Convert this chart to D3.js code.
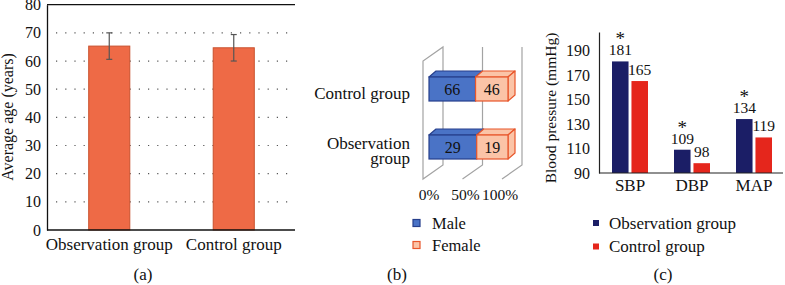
<!DOCTYPE html>
<html>
<head>
<meta charset="utf-8">
<script src="https://cdn.jsdelivr.net/npm/d3@7"></script>
<style>
  body { margin: 0; background: #fff; }
  svg { display: block; font-family: "Liberation Serif", "Times New Roman", serif; }
</style>
</head>
<body>
<svg id="drawing_region"></svg>
<script>
// (a) average age
const ageGroups = ["Observation group", "Control group"];
const ageMeans = [65.3, 64.7];
const ageSD = [4.7, 4.7];
const ageTicks = [0, 10, 20, 30, 40, 50, 60, 70, 80];

// (b) gender composition
const genderGroups = ["Control group", "Observation group"];
const genderLabelLines = [["Control group"], ["Observation", "group"]];
const maleCounts = [66, 29];
const femaleCounts = [46, 19];
const genderKeys = ["Male", "Female"];
const pctTicks = [0, 50, 100];

// (c) blood pressure
const bpMeasures = ["SBP", "DBP", "MAP"];
const bpSeries = ["Observation group", "Control group"];
const bpObservation = [181, 109, 134];
const bpControl = [165, 98, 119];
const bpTicks = [90, 110, 130, 150, 170, 190];
const bpStars = [true, true, true];

const svg = d3.select('#drawing_region')
    .attr('width', 785)
    .attr('height', 285);

// ---------- panel (a) ----------
{
    const x = d3.scaleBand().domain(ageGroups).range([47, 296]).paddingInner(0.67).paddingOuter(0.335);
    const y = d3.scaleLinear().domain([0, 80]).range([230, 4.7]);
    const g = svg.append('g');

    // dotted grid
    g.selectAll('line.grid')
        .data(ageTicks.filter(t => t > 0 && t < 80))
        .enter().append('line')
        .attr('x1', 56).attr('x2', 295)
        .attr('y1', d => y(d)).attr('y2', d => y(d))
        .attr('stroke', '#555').attr('stroke-width', 1.2)
        .attr('stroke-dasharray', '1.2,8');

    // top frame line
    g.append('line')
        .attr('x1', 47).attr('x2', 295)
        .attr('y1', y(80)).attr('y2', y(80))
        .attr('stroke', '#111').attr('stroke-width', 1.3);

    g.selectAll('rect')
        .data(ageGroups)
        .enter().append('rect')
        .attr('x', d => x(d))
        .attr('width', x.bandwidth())
        .attr('y', (d, i) => y(ageMeans[i]))
        .attr('height', (d, i) => y(0) - y(ageMeans[i]))
        .attr('fill', '#ee6a46')
        .attr('stroke', '#c9512d')
        .attr('stroke-width', 1);

    // error bars
    const eb = g.selectAll('g.err').data(ageGroups).enter().append('g')
        .attr('stroke', '#555').attr('stroke-width', 1.2);
    eb.append('line')
        .attr('x1', d => x(d) + x.bandwidth() / 2).attr('x2', d => x(d) + x.bandwidth() / 2)
        .attr('y1', (d, i) => y(ageMeans[i] + ageSD[i]))
        .attr('y2', (d, i) => y(ageMeans[i] - ageSD[i]));
    [1, -1].forEach(s => {
        eb.append('line')
            .attr('x1', d => x(d) + x.bandwidth() / 2 - 3).attr('x2', d => x(d) + x.bandwidth() / 2 + 3)
            .attr('y1', (d, i) => y(ageMeans[i] + s * ageSD[i]))
            .attr('y2', (d, i) => y(ageMeans[i] + s * ageSD[i]));
    });

    const yaxis = g.append('g').attr('transform', 'translate(47,0)')
        .call(d3.axisLeft(y).tickValues(ageTicks).tickSize(0).tickPadding(6));
    yaxis.select('.domain').attr('stroke', '#111').attr('stroke-width', 1.3);
    yaxis.selectAll('text').attr('font-size', 16).attr('fill', '#111').attr('font-family', 'Liberation Serif');

    const xaxis = g.append('g').attr('transform', `translate(0,${y(0)})`)
        .call(d3.axisBottom(x).tickSize(0).tickPadding(8));
    xaxis.select('.domain').attr('stroke', '#111').attr('stroke-width', 1.3).attr('d', 'M47,0H295');
    xaxis.selectAll('text').attr('font-size', 17).attr('fill', '#111').attr('font-family', 'Liberation Serif');

    g.append('text')
        .attr('transform', 'translate(13,117) rotate(-90)')
        .attr('text-anchor', 'middle')
        .attr('font-size', 16).attr('fill', '#111')
        .text('Average age (years)');

    g.append('text').attr('x', 143).attr('y', 280).attr('text-anchor', 'middle')
        .attr('font-size', 17).attr('fill', '#111').text('(a)');
}

// ---------- panel (b) ----------
{
    const xg = d3.scaleLinear().domain([0, 100]).range([423, 502]);
    const y = d3.scalePoint().domain(genderGroups).range([89, 147]);
    const depth = { dx: 20, dy: -14 };
    const floorY = 179, topY = 61;
    const g = svg.append('g');
    const wallColor = '#a3a3a3';

    // left wall (0%)
    g.append('path')
        .attr('d', `M${xg(0)},${floorY}V${topY}L${xg(0) + depth.dx},${topY + depth.dy}V${floorY + depth.dy}Z`)
        .attr('fill', 'none').attr('stroke', wallColor).attr('stroke-width', 1.2);
    // other gridlines
    g.selectAll('path.grid')
        .data(pctTicks.filter(t => t > 0))
        .enter().append('path')
        .attr('d', d => `M${xg(d)},${floorY}L${xg(d) + depth.dx},${floorY + depth.dy}V${topY + depth.dy}`)
        .attr('fill', 'none').attr('stroke', wallColor).attr('stroke-width', 1.2);

    const barH = 24, bx = 6, bdx = 7, bdy = -6;
    const colors = {
        Male: { fill: '#4a73c6', stroke: '#263f8c' },
        Female: { fill: '#fbc4a7', stroke: '#e8562b' }
    };

    genderGroups.forEach((grp, i) => {
        const total = maleCounts[i] + femaleCounts[i];
        const segs = [
            { key: 'Male', v0: 0, v1: maleCounts[i] / total * 100, n: maleCounts[i] },
            { key: 'Female', v0: maleCounts[i] / total * 100, v1: 100, n: femaleCounts[i] }
        ];
        const y0 = y(grp) - barH / 2, y1 = y(grp) + barH / 2;
        segs.forEach((s, j) => {
            const x0 = xg(s.v0) + bx, x1 = xg(s.v1) + bx;
            const c = colors[s.key];
            // top face
            g.append('path')
                .attr('d', `M${x0},${y0}L${x0 + bdx},${y0 + bdy}H${x1 + bdx}L${x1},${y0}Z`)
                .attr('fill', c.fill).attr('stroke', c.stroke).attr('stroke-width', 1.2).attr('stroke-linejoin', 'round');
            if (j === segs.length - 1) {
                g.append('path')
                    .attr('d', `M${x1},${y0}L${x1 + bdx},${y0 + bdy}V${y1 + bdy}L${x1},${y1}Z`)
                    .attr('fill', c.fill).attr('stroke', c.stroke).attr('stroke-width', 1.2).attr('stroke-linejoin', 'round');
            }
            g.append('rect')
                .attr('x', x0).attr('y', y0)
                .attr('width', x1 - x0).attr('height', barH)
                .attr('fill', c.fill).attr('stroke', c.stroke).attr('stroke-width', 1.2);
            g.append('text')
                .attr('x', (x0 + x1) / 2).attr('y', y(grp) + 5.5)
                .attr('text-anchor', 'middle').attr('font-size', 16).attr('fill', '#111')
                .text(s.n);
        });

        const lines = genderLabelLines[i];
        const t = g.append('text').attr('text-anchor', 'end').attr('font-size', 17).attr('fill', '#111');
        lines.forEach((ln, k) => {
            t.append('tspan').attr('x', 410)
                .attr('y', y(grp) + 9.5 + (k - (lines.length - 1) / 2) * 15)
                .text(ln);
        });
    });

    g.selectAll('text.tick')
        .data(pctTicks)
        .enter().append('text')
        .attr('x', d => xg(d) + (d === 0 ? 6 : d === 50 ? 3 : -2))
        .attr('y', 200)
        .attr('text-anchor', 'middle').attr('font-size', 15.5).attr('fill', '#111')
        .text(d => d + '%');

    // legend
    const lg = g.selectAll('g.leg').data(genderKeys).enter().append('g')
        .attr('transform', (d, i) => `translate(413,${223 + i * 22})`);
    lg.append('rect').attr('x', 0).attr('y', -3.5).attr('width', 7).attr('height', 7)
        .attr('fill', d => colors[d].fill).attr('stroke', d => colors[d].stroke).attr('stroke-width', 1.2);
    lg.append('text').attr('x', 19).attr('y', 6).attr('font-size', 16.5).attr('fill', '#111').text(d => d);

    g.append('text').attr('x', 397).attr('y', 280).attr('text-anchor', 'middle')
        .attr('font-size', 17).attr('fill', '#111').text('(b)');
}

// ---------- panel (c) ----------
{
    const x = d3.scaleBand().domain(bpMeasures).range([599, 785]);
    const xs = d3.scaleBand().domain(bpSeries).range([0, 36]).paddingInner(0.15);
    const y = d3.scaleLinear().domain([90, 205]).range([173, 32]);
    const colors = ['#1b1e66', '#e5261c'];
    const values = [bpObservation, bpControl];
    const g = svg.append('g');

    bpSeries.forEach((s, si) => {
        const off = x.bandwidth() / 2 - 18 + xs(s);
        g.selectAll(`rect.s${si}`)
            .data(bpMeasures)
            .enter().append('rect')
            .attr('x', d => x(d) + off)
            .attr('width', xs.bandwidth())
            .attr('y', (d, i) => y(values[si][i]))
            .attr('height', (d, i) => y(90) - y(values[si][i]))
            .attr('fill', colors[si]);
        g.selectAll(`text.v${si}`)
            .data(bpMeasures)
            .enter().append('text')
            .attr('x', d => x(d) + off + xs.bandwidth() / 2)
            .attr('y', (d, i) => y(values[si][i]) - 6)
            .attr('text-anchor', 'middle').attr('font-size', 15.5).attr('fill', '#111')
            .text((d, i) => values[si][i]);
        if (si === 0) {
            g.selectAll('text.star')
                .data(bpMeasures.filter((d, i) => bpStars[i]))
                .enter().append('text')
                .attr('x', d => x(d) + off + xs.bandwidth() / 2)
                .attr('y', d => y(values[0][bpMeasures.indexOf(d)]) - 16)
                .attr('text-anchor', 'middle').attr('font-size', 19).attr('fill', '#111')
                .text('*');
        }
    });

    const yaxis = g.append('g').attr('transform', 'translate(599,0)')
        .call(d3.axisLeft(y).tickValues(bpTicks).tickSize(0).tickPadding(9));
    yaxis.select('.domain').attr('stroke', '#222').attr('stroke-width', 1.2);
    yaxis.selectAll('text').attr('font-size', 16).attr('fill', '#111').attr('font-family', 'Liberation Serif');

    const xaxis = g.append('g').attr('transform', `translate(0,${y(90)})`)
        .call(d3.axisBottom(x).tickSize(0).tickPadding(6));
    xaxis.select('.domain').attr('stroke', '#222').attr('stroke-width', 1.2).attr('d', 'M599,0H783');
    xaxis.selectAll('text').attr('font-size', 17).attr('fill', '#111').attr('font-family', 'Liberation Serif');

    g.append('text')
        .attr('transform', 'translate(556,108) rotate(-90)')
        .attr('text-anchor', 'middle')
        .attr('font-size', 15.5).attr('fill', '#111')
        .text('Blood pressure (mmHg)');

    const lg = g.selectAll('g.leg').data(bpSeries).enter().append('g')
        .attr('transform', (d, i) => `translate(593,${223 + i * 23.5})`);
    lg.append('rect').attr('x', 0).attr('y', -3).attr('width', 6).attr('height', 6)
        .attr('fill', (d, i) => colors[i]);
    lg.append('text').attr('x', 16).attr('y', 5.5).attr('font-size', 17).attr('fill', '#111').text(d => d);

    g.append('text').attr('x', 663).attr('y', 280).attr('text-anchor', 'middle')
        .attr('font-size', 17).attr('fill', '#111').text('(c)');
}
</script>
</body>
</html>
